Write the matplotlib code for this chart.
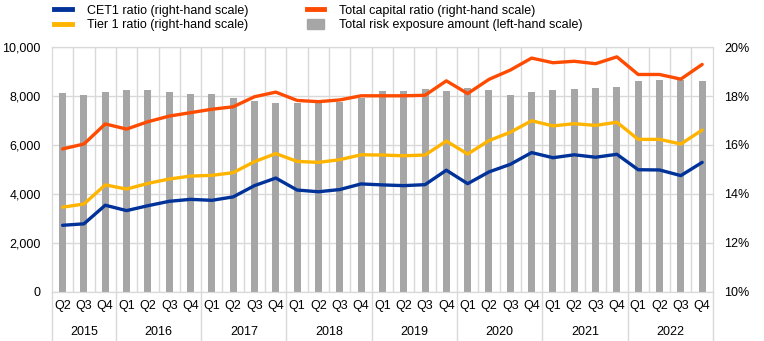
import matplotlib.pyplot as plt
import matplotlib.transforms as mtransforms
from matplotlib.lines import Line2D
from matplotlib.patches import Patch
from matplotlib.ticker import FuncFormatter, FixedLocator

plt.rcParams['font.family'] = ['Liberation Sans', 'DejaVu Sans']

# Quarterly observations, 2015 Q2 to 2022 Q4
years = ['2015', '2016', '2017', '2018', '2019', '2020', '2021', '2022']
quarters = (['Q2', 'Q3', 'Q4'] + ['Q1', 'Q2', 'Q3', 'Q4'] * 7)

# Total risk exposure amount (EUR billions, left-hand scale)
trea = [8110, 8040, 8180, 8230, 8230, 8150, 8080, 8080, 7900, 7800, 7710,
        7730, 7730, 7740, 7930, 8220, 8190, 8290, 8200, 8310, 8250, 8050,
        8150, 8250, 8300, 8330, 8370, 8610, 8670, 8660, 8610]

# Capital ratios (%, right-hand scale)
cet1 = [12.72, 12.78, 13.54, 13.32, 13.52, 13.70, 13.78, 13.74, 13.88, 14.34,
        14.65, 14.16, 14.09, 14.18, 14.41, 14.37, 14.34, 14.38, 14.97, 14.42,
        14.90, 15.21, 15.69, 15.48, 15.60, 15.50, 15.62, 14.99, 14.98, 14.75,
        15.29]
tier1 = [13.46, 13.59, 14.37, 14.20, 14.43, 14.61, 14.73, 14.76, 14.87, 15.32,
         15.65, 15.33, 15.29, 15.40, 15.60, 15.59, 15.56, 15.59, 16.16, 15.63,
         16.18, 16.52, 16.99, 16.78, 16.87, 16.80, 16.93, 16.23, 16.23, 16.04,
         16.61]
total_cap = [15.84, 16.04, 16.86, 16.65, 16.95, 17.18, 17.32, 17.46, 17.56,
             17.97, 18.16, 17.82, 17.77, 17.84, 18.01, 18.01, 18.01, 18.03,
             18.62, 18.10, 18.68, 19.06, 19.55, 19.36, 19.42, 19.32, 19.60,
             18.88, 18.88, 18.69, 19.29]

blue = '#003299'
yellow = '#ffb400'
orange = '#ff4b00'
grey = '#a6a6a6'
grid_col = '#d9d9d9'

x = list(range(len(quarters)))

fig = plt.figure(figsize=(7.64, 3.41), dpi=100)
ax = fig.add_axes([0.068, 0.144, 0.865, 0.718])
ax2 = ax.twinx()

# Bars on the left-hand scale
ax.bar(x, trea, width=0.33, color=grey, zorder=2)
ax.set_ylim(0, 10000)
ax.set_yticks(range(0, 10001, 2000))
ax.yaxis.set_major_formatter(FuncFormatter(lambda v, p: f'{int(v):,}'))
ax.set_xlim(-0.5, len(x) - 0.5)
ax.set_axisbelow(True)
ax.grid(axis='y', color=grid_col, linewidth=1)

# Category separators
ax.xaxis.set_minor_locator(FixedLocator([i + 0.5 for i in range(len(x) - 1)]))
ax.grid(axis='x', which='minor', color=grid_col, linewidth=1)
ax.set_xticks(x)
ax.set_xticklabels(quarters, fontsize=9)
ax.tick_params(axis='x', which='both', length=0, pad=6)
ax.tick_params(axis='y', length=0, labelsize=9, pad=8)

# Lines on the right-hand scale
ax2.plot(x, total_cap, color=orange, linewidth=2.4, solid_capstyle='round', zorder=3)
ax2.plot(x, tier1, color=yellow, linewidth=2.4, solid_capstyle='round', zorder=3)
ax2.plot(x, cet1, color=blue, linewidth=2.4, solid_capstyle='round', zorder=3)
ax2.set_ylim(10, 20)
ax2.set_yticks(range(10, 21, 2))
ax2.yaxis.set_major_formatter(FuncFormatter(lambda v, p: f'{int(v)}%'))
ax2.tick_params(axis='y', length=0, labelsize=9, pad=8)

for a in (ax, ax2):
    for side in ('left', 'right', 'top', 'bottom'):
        a.spines[side].set_color(grid_col)

# Year labels and year separators under the quarter labels
trans = mtransforms.blended_transform_factory(ax.transData, ax.transAxes)
start = 0
for i, yr in enumerate(years):
    n = 3 if i == 0 else 4
    mid = start + (n - 1) / 2
    ax.text(mid, -0.165, yr, transform=trans, ha='center', va='center', fontsize=9)
    if i > 0:
        ax.plot([start - 0.5, start - 0.5], [0, -0.2], transform=trans,
                color=grid_col, linewidth=1, clip_on=False)
    start += n
ax.plot([-0.5, -0.5], [0, -0.2], transform=trans, color=grid_col, linewidth=1, clip_on=False)
ax.plot([len(x) - 0.5] * 2, [0, -0.2], transform=trans, color=grid_col, linewidth=1, clip_on=False)

handles = [
    Line2D([], [], color=blue, linewidth=3.5),
    Line2D([], [], color=yellow, linewidth=3.5),
    Line2D([], [], color=orange, linewidth=3.5),
    Patch(color=grey),
]
labels = ['CET1 ratio (right-hand scale)', 'Tier 1 ratio (right-hand scale)',
          'Total capital ratio (right-hand scale)', 'Total risk exposure amount (left-hand scale)']
fig.legend(handles, labels, ncol=2, loc='upper left', bbox_to_anchor=(0.056, 1.02),
           frameon=False, fontsize=9, handlelength=1.4, handleheight=0.8,
           handletextpad=1.2, columnspacing=4.7, labelspacing=0.2)

fig.savefig('out.png', dpi=100)
